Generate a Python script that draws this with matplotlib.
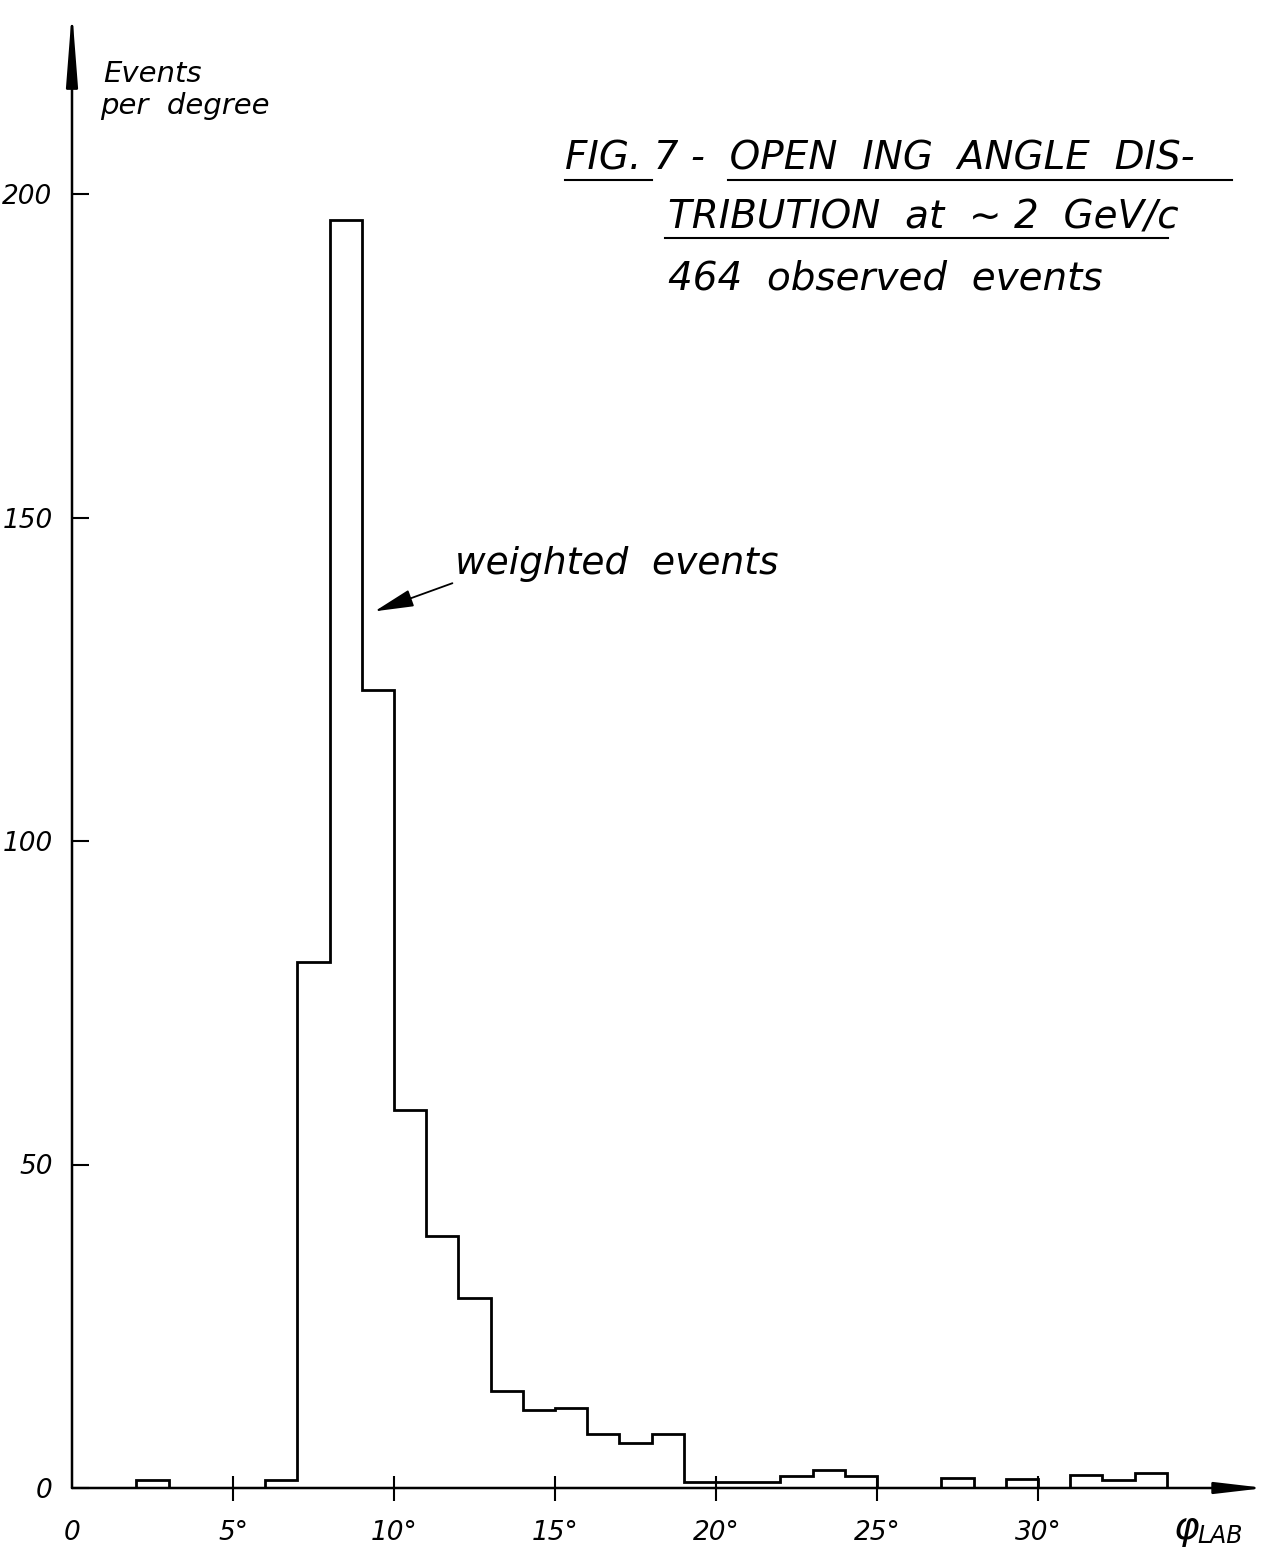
import numpy as np
import matplotlib
matplotlib.use("Agg")
import matplotlib.pyplot as plt
from matplotlib.lines import Line2D

# ---- data ----
bin_edges = list(range(0, 35))  # 1-degree bins, 0..34 degrees
events_per_degree = [0, 0, 1.2, 0, 0, 0, 1.3, 81.3, 196.0, 123.3,
                     58.4, 39.0, 29.4, 15.0, 12.0, 12.4, 8.3, 7.0, 8.3, 0.9,
                     0.9, 0.9, 1.8, 2.8, 1.8, 0, 0, 1.5, 0, 1.4,
                     0, 2.0, 1.3, 2.3]
x_ticks = [0, 5, 10, 15, 20, 25, 30]
x_tick_labels = ["0", "5°", "10°", "15°", "20°", "25°", "30°"]
y_ticks = [0, 50, 100, 150, 200]
y_tick_labels = ["0", "50", "100", "150", "200"]

W, H = 1269, 1548
fig = plt.figure(figsize=(W / 100, H / 100), dpi=100)
fig.patch.set_facecolor("white")

# axes placed so that data origin sits at pixel (72, 1488)
x0, y0 = 72, 1488
xmax_px, ytop_px = 1265, 10
ax = fig.add_axes([x0 / W, (H - y0) / H, (xmax_px - x0) / W, (y0 - ytop_px) / H])
xmax = (xmax_px - x0) / 32.2
ymax = (y0 - ytop_px) / 6.47
ax.set_xlim(0, xmax)
ax.set_ylim(0, ymax)
for s in ax.spines.values():
    s.set_visible(False)
ax.patch.set_alpha(0)

font = dict(family="DejaVu Sans", style="oblique")

# histogram outline
ax.stairs(events_per_degree, bin_edges, baseline=0, fill=False,
          color="black", linewidth=2.0)

# axes with arrows
ax.annotate("", xy=(xmax, 0), xytext=(0, 0), xycoords="data",
            arrowprops=dict(arrowstyle="-|>,head_length=3.0,head_width=0.35",
                            color="black", lw=1.8, shrinkA=0, shrinkB=0),
            annotation_clip=False)
ax.annotate("", xy=(0, ymax), xytext=(0, 0), xycoords="data",
            arrowprops=dict(arrowstyle="-|>,head_length=4.5,head_width=0.35",
                            color="black", lw=1.8, shrinkA=0, shrinkB=0),
            annotation_clip=False)

# ticks
ax.set_xticks(x_ticks)
ax.set_xticklabels(x_tick_labels, fontsize=19, **font)
ax.set_yticks(y_ticks)
ax.set_yticklabels(y_tick_labels, fontsize=19, **font)
ax.tick_params(axis="x", direction="inout", length=18, width=1.5, pad=14)
ax.tick_params(axis="y", direction="in", length=12, width=1.5, pad=14)
ax.get_xticklines()[0].set_visible(False)
ax.get_xticklines()[1].set_visible(False)

# x-axis label (phi LAB)
ax.text(34.2, -3.6, r"$\varphi$", fontsize=28, ha="left", va="top", **font)
ax.text(34.95, -5.6, "LAB", fontsize=17, ha="left", va="top", **font)

# y-axis label
fig.text(103 / W, 1 - 82 / H, "Events", fontsize=21, **font)
fig.text(100 / W, 1 - 114 / H, "per  degree", fontsize=21, **font)

# title block
fig.text(565 / W, 1 - 170 / H, "FIG. 7 -  OPEN  ING  ANGLE  DIS-",
         fontsize=28, **font)
fig.text(668 / W, 1 - 228 / H, "TRIBUTION  at  ∼ 2  GeV/c",
         fontsize=28, **font)
fig.text(668 / W, 1 - 290 / H, "464  observed  events",
         fontsize=28, **font)
for (xa, xb, yy) in [(565, 652, 180), (728, 1232, 180), (665, 1168, 238)]:
    fig.add_artist(Line2D([xa / W, xb / W], [1 - yy / H, 1 - yy / H],
                          color="black", lw=1.5, transform=fig.transFigure))

# annotation
ax.annotate("weighted  events", xy=(9.4, 135.5), xytext=(11.9, 140.0),
            fontsize=27, va="bottom", ha="left", **font,
            arrowprops=dict(arrowstyle="-|>,head_length=0.9,head_width=0.2",
                            color="black", lw=1.3, shrinkA=0, shrinkB=0,
                            relpos=(0, 0)))

fig.savefig("out.png", dpi=100, facecolor="white")
